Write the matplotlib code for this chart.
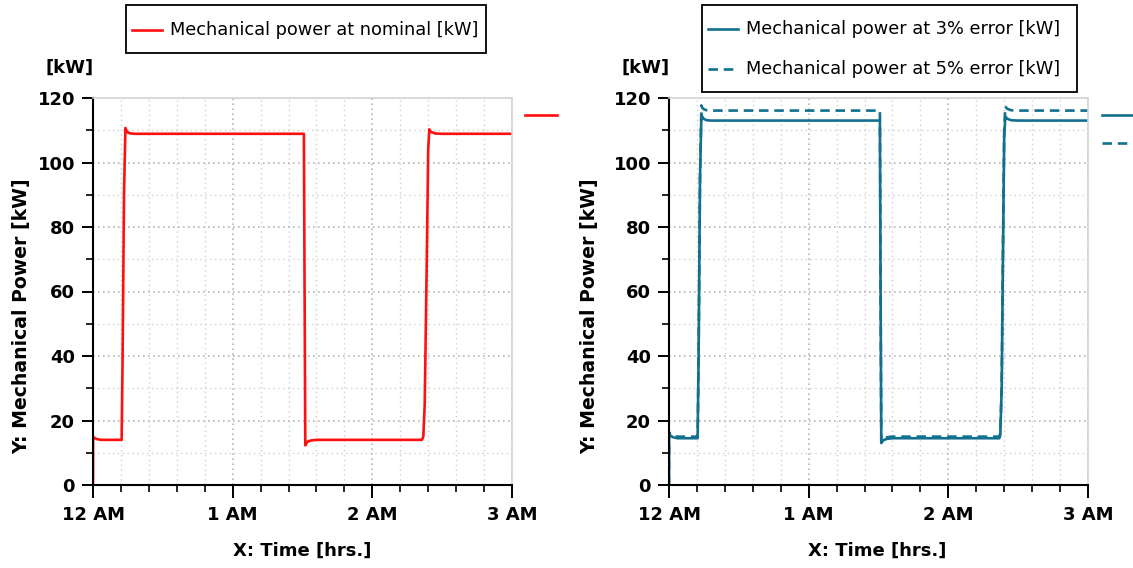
import matplotlib
matplotlib.use("Agg")
import matplotlib.pyplot as plt
from matplotlib.lines import Line2D
from matplotlib.patches import Rectangle
from matplotlib.ticker import FixedLocator, MultipleLocator

# ---------------- data (hours, kW) ----------------
t_nom = [0.0, 0.0005, 0.01, 0.03, 0.06, 0.205, 0.212, 0.222, 0.232, 0.238, 0.25, 0.27, 0.30,
         1.510, 1.515, 1.520, 1.535, 1.56, 1.60, 2.355, 2.365, 2.375, 2.390, 2.400, 2.408, 2.42, 2.45, 2.50, 3.0]
p_nom = [0.0, 15.0, 14.6, 14.2, 14.0, 14.0, 40.0, 90.0, 110.7, 110.0, 109.3, 109.0, 108.9,
         108.9, 60.0, 12.3, 13.4, 13.8, 14.0, 14.0, 15.0, 25.0, 70.0, 104.0, 110.3, 109.5, 109.0, 108.9, 108.9]

t_err = [0.0, 0.0005, 0.01, 0.03, 0.06, 0.205, 0.212, 0.222, 0.232, 0.238, 0.25, 0.27, 0.30,
         1.510, 1.515, 1.520, 1.535, 1.56, 1.60, 2.365, 2.372, 2.382, 2.392, 2.400, 2.408, 2.42, 2.45, 2.50, 3.0]
p_err3 = [0.0, 16.0, 15.3, 14.8, 14.5, 14.5, 40.0, 95.0, 115.0, 114.2, 113.5, 113.1, 113.0,
          113.0, 60.0, 13.0, 13.9, 14.3, 14.5, 14.5, 15.5, 30.0, 75.0, 108.0, 114.3, 113.6, 113.1, 113.0, 113.0]
p_err5 = [0.0, 16.4, 15.7, 15.2, 15.0, 15.0, 40.0, 95.0, 117.7, 117.0, 116.5, 116.2, 116.1,
          116.1, 60.0, 13.3, 14.3, 14.8, 15.0, 15.0, 16.0, 31.0, 77.0, 110.0, 117.4, 116.7, 116.2, 116.1, 116.1]

x_ticks = [0, 1, 2, 3]
x_ticklabels = ["12 AM", "1 AM", "2 AM", "3 AM"]
y_ticks = [0, 20, 40, 60, 80, 100, 120]

label_nom = "Mechanical power at nominal [kW]"
label_3 = "Mechanical power at 3% error [kW]"
label_5 = "Mechanical power at 5% error [kW]"

RED = "#ff1010"
TEAL = "#12708f"
DASH = (3.6, 2.2)
LW = 1.9

W, H = 1133, 568
fig = plt.figure(figsize=(W / 100, H / 100), dpi=100)

LEG_FONT = "DejaVu Sans"
LEG_SIZE = 12.8


def fx(px):
    return px / W


def fy(py):
    return 1 - py / H


def make_axes(x0px):
    ax = fig.add_axes([x0px / W, (H - 485) / H, 419 / W, 387 / H])
    ax.set_xlim(0, 3)
    ax.set_ylim(0, 120)
    ax.xaxis.set_major_locator(FixedLocator(x_ticks))
    ax.set_xticklabels(x_ticklabels)
    ax.xaxis.set_minor_locator(MultipleLocator(0.2))
    ax.yaxis.set_major_locator(FixedLocator(y_ticks))
    ax.yaxis.set_minor_locator(MultipleLocator(10))
    ax.grid(True, which="minor", color="#cfcfcf", linestyle=(0, (1, 2.5)), linewidth=1.0)
    ax.grid(True, which="major", color="#b8b8b8", linestyle=(0, (1, 2.0)), linewidth=1.2)
    ax.set_axisbelow(True)
    for s in ("top", "right"):
        ax.spines[s].set_color("#d4d4d4")
        ax.spines[s].set_linewidth(1.2)
    for s in ("left", "bottom"):
        ax.spines[s].set_color("black")
        ax.spines[s].set_linewidth(1.5)
    ax.tick_params(axis="x", which="major", direction="out", length=9, width=1.4, pad=6,
                   labelsize=13)
    ax.tick_params(axis="x", which="minor", direction="out", length=5, width=1.2)
    ax.tick_params(axis="y", which="major", direction="out", length=8, width=1.4, pad=5,
                   labelsize=13)
    ax.tick_params(axis="y", which="minor", direction="out", length=5, width=1.2)
    for lab in ax.get_xticklabels() + ax.get_yticklabels():
        lab.set_fontweight("bold")
    return ax


axL = make_axes(93)
axR = make_axes(669)

(lnom,) = axL.plot(t_nom, p_nom, color=RED, lw=LW, label=label_nom)
(l3,) = axR.plot(t_err, p_err3, color=TEAL, lw=LW, label=label_3)
(l5,) = axR.plot(t_err, p_err5, color=TEAL, lw=LW, dashes=DASH, label=label_5)

# right-hand end markers
axL.add_line(Line2D([1.031, 1.107], [0.956, 0.956], transform=axL.transAxes, color=RED, lw=LW,
                    clip_on=False))
axR.add_line(Line2D([1.033, 1.107], [0.956, 0.956], transform=axR.transAxes, color=TEAL, lw=LW,
                    clip_on=False))
axR.add_line(Line2D([1.033, 1.107], [0.884, 0.884], transform=axR.transAxes, color=TEAL, lw=LW,
                    dashes=DASH, clip_on=False))


# legends drawn as boxes with sample lines and labels
def legend_box(x0, y0, x1, y1, entries):
    fig.patches.append(Rectangle((fx(x0), fy(y1)), fx(x1) - fx(x0), fy(y0) - fy(y1),
                                 transform=fig.transFigure, facecolor="white",
                                 edgecolor="black", linewidth=1.3))
    for line, yc in entries:
        kw = dict(color=line.get_color(), lw=LW, transform=fig.transFigure)
        if line.get_linestyle() not in ("-", "solid"):
            kw["dashes"] = DASH
        fig.lines.append(Line2D([fx(x0 + 6), fx(x0 + 36)], [fy(yc), fy(yc)], **kw))
        fig.text(fx(x0 + 44), fy(yc), line.get_label(), ha="left", va="center",
                 family=LEG_FONT, fontsize=LEG_SIZE)


legend_box(126, 5, 486, 53, [(lnom, 30)])
legend_box(702, 5, 1077, 92, [(l3, 29), (l5, 69)])

# unit labels and axis titles
for cx in (70, 646):
    fig.text(cx / W, 1 - 68 / H, "[kW]", ha="center", va="center", fontsize=13,
             fontweight="bold")
for cx in (22, 590):
    fig.text(cx / W, 1 - 316 / H, "Y: Mechanical Power [kW]", ha="center", va="center",
             rotation=90, fontsize=13.6, fontweight="bold")
for cx in (302, 877):
    fig.text(cx / W, 1 - 551 / H, "X: Time [hrs.]", ha="center", va="center", fontsize=13,
             fontweight="bold")

fig.savefig("out.png", dpi=100)
